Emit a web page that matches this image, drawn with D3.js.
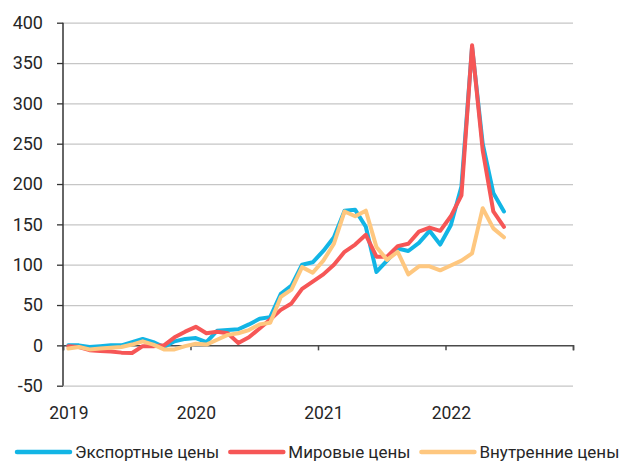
<!DOCTYPE html>
<html>
<head>
<meta charset="utf-8">
<script src="https://cdn.jsdelivr.net/npm/d3@7"></script>
<style>
  body { margin: 0; background: #fff; }
  text { font-family: Roboto, "Liberation Sans", sans-serif; fill: #262626; }
</style>
</head>
<body>
<div class="chart"></div>
<script>
// months Jan 2019 .. Jun 2022
const months = [
  "2019-01","2019-02","2019-03","2019-04","2019-05","2019-06","2019-07","2019-08","2019-09","2019-10","2019-11","2019-12",
  "2020-01","2020-02","2020-03","2020-04","2020-05","2020-06","2020-07","2020-08","2020-09","2020-10","2020-11","2020-12",
  "2021-01","2021-02","2021-03","2021-04","2021-05","2021-06","2021-07","2021-08","2021-09","2021-10","2021-11","2021-12",
  "2022-01","2022-02","2022-03","2022-04","2022-05","2022-06"
]
const exportPrices = [
  0, 0, -2, -1, 0, 0, 4, 8, 4, -2, 5, 8,
  9, 4, 18, 19, 20, 26, 33, 35, 64, 74, 100, 103,
  117, 134, 167, 168, 147, 91, 105, 120, 117, 127, 142, 125,
  149, 197, 370, 250, 189, 166
]
const worldPrices = [
  -1, -2, -6, -7, -7.5, -9, -9.5, -1, -1, 0, 10, 17,
  23, 15, 17, 15, 3, 10, 21, 32, 44, 52, 70, 79,
  88, 100, 116, 125, 137, 110, 110, 123, 126, 141, 146, 142,
  160, 186, 372, 242, 166, 147
]
const domesticPrices = [
  -4, -2, -5, -4, -3, -2, 1, 5, 1, -5, -5, -1,
  2, 1, 7, 13, 15, 19, 26, 28, 60, 69, 97, 90,
  105, 126, 166, 160, 167, 122, 106, 116, 88, 98, 98, 93,
  99, 105, 114, 170, 145, 134
]
const yTicks = [-50, 0, 50, 100, 150, 200, 250, 300, 350, 400]
const yearTicks = [0, 12, 24, 36, 48]
const yearLabels = ["2019", "2020", "2021", "2022", ""]

const seriesNames = ["Экспортные цены", "Мировые цены", "Внутренние цены"]
const seriesColors = ["#12b5e5", "#f65656", "#fec77f"]
const series = [exportPrices, worldPrices, domesticPrices]

const W = 625, H = 463
const margin = ({top: 22.7, right: 52, bottom: 77.3, left: 63})
const width = W - margin.left - margin.right,
  height = H - margin.top - margin.bottom

const svg = d3.select(".chart").append("svg")
  .attr("width", W)
  .attr("height", H)

const g = svg.append("g")
  .attr("transform", "translate(" + margin.left + "," + margin.top + ")")

const x = d3.scaleLinear().domain([0, 48]).range([0, width])
const y = d3.scaleLinear().domain([-50, 400]).range([height, 0])

// y axis + grid
const yAxis = d3.axisLeft(y)
  .tickValues(yTicks)
  .tickSize(6)
  .tickPadding(14)
  .tickFormat(d => String(d))   // plain hyphen, like the original

const yAxisGroup = g.append("g")
  .attr("class", "axis y-axis")
  .call(yAxis)

yAxisGroup.select(".domain").remove()
yAxisGroup.selectAll(".tick line").attr("stroke", "#333").attr("stroke-width", 1.3)
yAxisGroup.selectAll(".tick text")
  .attr("font-size", 18)
  .attr("fill", "#262626")

yAxisGroup.selectAll(".tick")
  .filter(d => d !== 0)
  .append("line")
  .attr("x2", width)
  .attr("stroke", "#c6c6c6")
  .attr("stroke-width", 1.3)

g.append("line")
  .attr("x1", 0).attr("x2", 0)
  .attr("y1", 0).attr("y2", height)
  .attr("stroke", "#333")
  .attr("stroke-width", 1.5)

// x axis on zero
const xAxis = d3.axisBottom(x)
  .tickValues(yearTicks)
  .tickSize(5)
  .tickFormat((d, i) => yearLabels[i])

const xAxisGroup = g.append("g")
  .attr("class", "axis x-axis")
  .attr("transform", `translate(0, ${y(0)})`)
  .call(xAxis)

xAxisGroup.select(".domain").attr("stroke", "#4a4a4a").attr("stroke-width", 1.5)
xAxisGroup.selectAll(".tick line").attr("stroke", "#4a4a4a").attr("stroke-width", 1.5)
xAxisGroup.selectAll(".tick text")
  .attr("font-size", 17.5)
  .attr("fill", "#262626")
  .attr("x", x(0.5) - x(0))
  .attr("y", 74)
  .attr("dy", 0)

// lines
const line = d3.line()
  .x((d, i) => x(i + 0.5))
  .y(d => y(d))

series.forEach((s, k) => {
  g.append("path")
    .datum(s)
    .attr("fill", "none")
    .attr("stroke", seriesColors[k])
    .attr("stroke-width", 4)
    .attr("stroke-linejoin", "round")
    .attr("stroke-linecap", "round")
    .attr("d", line)
})

// legend
const legend = svg.append("g").attr("transform", "translate(17, 452)")
let lx = 0
seriesNames.forEach((name, k) => {
  legend.append("line")
    .attr("x1", lx).attr("x2", lx + 53)
    .attr("stroke", seriesColors[k])
    .attr("stroke-width", 4.5)
    .attr("stroke-linecap", "round")
  const t = legend.append("text")
    .attr("x", lx + 58)
    .attr("y", 0)
    .attr("dy", "0.36em")
    .attr("font-size", 17)
    .text(name)
  lx += 58 + t.node().getComputedTextLength() + 11
})
</script>
</body>
</html>
